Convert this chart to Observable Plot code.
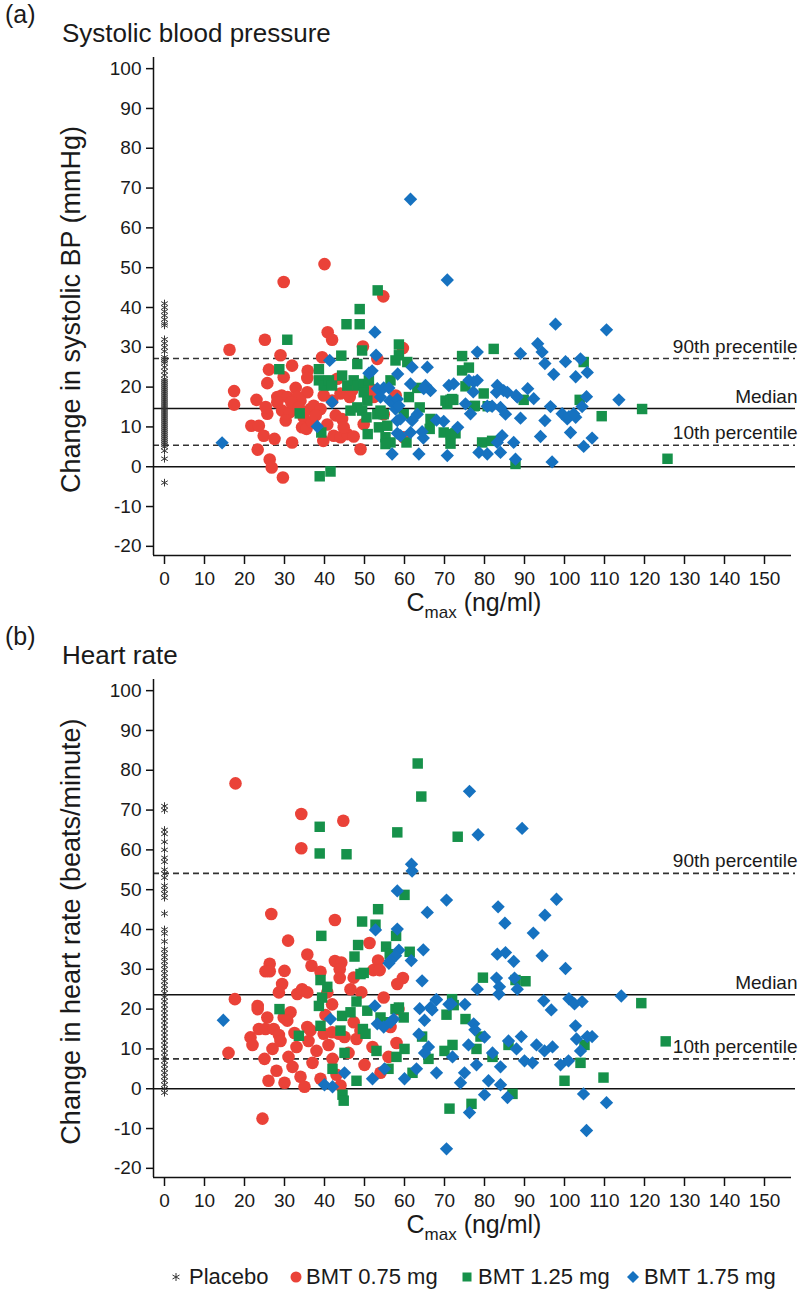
<!DOCTYPE html>
<html><head><meta charset="utf-8">
<script src="https://cdn.jsdelivr.net/npm/d3@7"></script>
<script src="https://cdn.jsdelivr.net/npm/@observablehq/plot@0.6"></script>
<style>
body{margin:0;background:#fff;}
#page{position:relative;width:800px;height:1296px;font-family:"Liberation Sans",Arial,sans-serif;color:#1a1a1a;background:#fff;}
.abs{position:absolute;white-space:nowrap;line-height:1;}
.panel{position:absolute;left:0;}
</style></head>
<body><div id="page"></div>
<script>
// ---------- shared ticks ----------
const xTicks = [0,10,20,30,40,50,60,70,80,90,100,110,120,130,140,150];
const yTicks = [-20,-10,0,10,20,30,40,50,60,70,80,90,100];
const seriesNames = ["Placebo","BMT 0.75 mg","BMT 1.25 mg","BMT 1.75 mg"];
const seriesColors = ["#333333","#EA4238","#16914A","#1672C0"];

// ---------- (a) systolic BP ----------
const sbpPlacebo = [41,40,39,38,37,36,35.5,32,31,30,29,27.5,27,26.5,26,25,24,23,22,21.5,21,20.5,20,19.5,19,18.5,18,17.5,17,16.5,16,15.5,15,14.5,14,13.5,13,12.5,12,11.5,11,10.5,10,9.5,9,8.5,8,7.5,7,6.5,6,5.5,5,4,2,-4];
const sbpLow = [[16.25,29.4],[25.1,31.9],[17.4,19.0],[17.4,15.6],[29.0,28.0],[26.1,24.4],[31.9,25.4],[25.7,21.0],[23.0,16.8],[21.7,10.3],[23.6,10.3],[24.8,7.8],[23.3,4.3],[26.3,1.8],[26.8,-0.2],[29.6,-2.7],[27.5,7.0],[31.9,6.1],[39.7,6.5],[49.0,4.4],[40.8,33.8],[41.9,31.9],[39.4,27.5],[49.6,30.2],[59.6,29.8],[29.8,22.5],[29.3,17.9],[28.2,17.5],[30.8,17.5],[32.8,19.8],[35.8,24.1],[35.7,22.3],[35.7,18.7],[34.0,16.6],[33.2,17.5],[29.4,14.1],[31.3,13.7],[30.3,11.6],[25.7,13.3],[25.3,15.0],[34.8,12.4],[36.5,14.5],[37.3,15.3],[34.4,9.9],[35.5,9.5],[36.9,11.2],[40.7,10.6],[42.8,12.9],[44.4,12.0],[42.3,7.8],[44.0,7.4],[45.7,8.2],[47.3,7.6],[44.8,9.9],[43.2,22.1],[39.8,17.9],[41.9,16.6],[44.0,18.4],[46.3,17.5],[46.9,19.2],[49.8,10.7],[51.5,19.6],[52.3,17.5],[57.8,17.9],[39.0,14.5],[37.8,12.9],[53.2,27.1],[54.8,13.2],[59.8,7.4],[31.7,16.2],[28.2,16.2],[33.6,14.9],[29.8,46.4],[40.0,50.9],[54.7,42.8]];
const sbpMid = [[30.7,31.9],[48.8,39.6],[45.5,35.8],[48.8,35.8],[28.7,24.5],[38.6,24.5],[38.6,21.7],[39.8,20.4],[41.1,21.7],[41.9,20.4],[44.4,22.9],[44.2,27.9],[48.2,25.8],[49.4,29.2],[45.7,20.4],[47.3,21.7],[48.2,20.4],[49.8,20.8],[51.1,21.7],[49.8,18.7],[50.7,16.6],[48.2,14.9],[49.4,14.1],[46.5,14.1],[50.5,12.4],[39.2,8.6],[33.8,13.4],[50.8,8.2],[53.6,9.9],[55.7,10.3],[55.25,7.4],[56.5,6.1],[55.25,5.7],[38.8,-2.4],[41.5,-1.2],[53.2,13.2],[54.8,13.2],[54.0,14.1],[56.5,21.7],[58.6,30.7],[58.6,28.0],[57.75,26.7],[60.7,26.3],[61.1,17.5],[60.5,6.1],[59.8,13.2],[63.8,14.9],[63.2,19.8],[66.5,12.0],[66.3,9.5],[70.25,16.6],[71.9,17.0],[70.7,15.8],[69.8,8.6],[71.5,8.2],[72.75,8.4],[71.5,5.8],[74.4,27.8],[74.4,24.2],[76.1,24.9],[75.25,20.2],[77.3,15.2],[79.8,18.4],[79.4,6.1],[81.9,6.5],[82.3,29.6],[89.8,16.8],[87.75,0.7],[103.8,16.8],[104.8,26.3],[109.3,12.7],[80.8,15.2],[53.3,44.3],[119.4,14.5],[125.75,2.0],[71.5,16.8],[72.2,16.8],[77.6,15.3]];
const sbpHigh = [[14.4,6.0],[41.3,26.7],[41.9,16.2],[38.2,10.1],[52.6,33.8],[52.9,28.0],[51.1,23.5],[51.9,24.1],[53.2,19.6],[54.8,19.8],[56.1,19.8],[54.0,17.5],[56.3,16.6],[57.3,15.8],[58.2,17.0],[57.75,14.5],[58.6,15.3],[58.3,23.3],[61.5,20.8],[61.9,25.0],[65.7,25.0],[65.25,20.4],[66.5,19.1],[64.8,19.6],[63.2,13.2],[61.9,11.6],[61.5,8.6],[58.2,11.6],[59.0,12.0],[58.2,8.4],[59.0,7.8],[56.9,3.2],[63.6,3.2],[64.4,8.8],[64.7,7.2],[68.0,11.7],[69.8,11.4],[70.7,2.8],[73.3,9.9],[71.1,20.4],[72.3,20.8],[75.25,15.8],[76.5,13.3],[76.1,21.7],[77.3,21.3],[78.2,21.7],[77.2,18.8],[78.2,28.8],[78.6,3.6],[80.7,3.2],[80.7,15.2],[81.9,15.2],[83.2,20.4],[84.8,19.1],[85.7,18.7],[84.0,14.9],[85.25,13.2],[84.4,7.8],[83.2,6.1],[84.0,3.6],[87.3,6.1],[87.75,1.9],[88.2,17.5],[89.0,28.4],[89.0,12.2],[90.8,19.6],[92.3,17.1],[93.3,30.9],[94.4,28.8],[95.1,25.9],[97.75,35.8],[97.3,23.2],[100.25,26.4],[96.5,15.1],[95.1,11.6],[94.0,7.6],[96.9,1.2],[99.4,13.3],[100.7,12.0],[101.5,8.6],[102.8,22.6],[102.8,12.4],[104.0,27.1],[105.7,23.7],[105.5,17.6],[104.4,15.1],[104.8,5.1],[106.9,7.2],[110.5,34.4],[113.6,16.8],[61.5,67.2],[70.7,46.9],[83.0,18.7],[101.1,12.6],[102.3,13.3],[87.9,17.9]];
const sbpRefValues = [27.2,14.6,5.4];
const sbpRefLabels = ["90th precentile","Median","10th percentile"];

// ---------- (b) heart rate ----------
const hrPlacebo = [71,70,65,64,62,60,58,57,55,54,53,51,50,49,48,44,40,39,37,35,34,33,32,31,30,29,28,27,26,25,24,23,22,21,20,19,18,17,16,15,14,13,12,11,10,9,8,7,6,5,4,3,2,1,0,-1];
const hrLow = [[17.75,76.7],[34.2,69.0],[44.7,67.3],[34.2,60.4],[26.7,43.9],[42.6,42.4],[30.9,37.2],[35.7,33.7],[51.25,36.6],[26.3,31.4],[25.25,29.5],[26.3,29.5],[30.0,29.6],[36.75,30.9],[39.0,29.4],[42.6,32.1],[44.2,31.7],[43.8,30.0],[43.8,27.8],[47.3,27.9],[53.4,32.2],[52.2,29.8],[53.8,29.8],[59.6,27.8],[58.2,26.3],[29.4,26.3],[28.6,24.2],[33.2,23.8],[34.4,25.0],[35.7,24.2],[40.7,24.2],[46.5,25.0],[49.2,24.2],[41.9,21.2],[54.8,22.9],[17.6,22.5],[23.3,20.8],[23.3,20.0],[25.7,17.9],[29.8,17.9],[31.5,19.2],[30.7,17.1],[21.5,12.9],[23.6,15.0],[25.25,15.0],[27.3,15.0],[28.6,13.5],[35.7,15.5],[36.5,14.7],[40.25,18.5],[39.8,13.8],[41.9,14.2],[43.6,13.8],[47.3,16.7],[16.0,9.0],[22.0,11.0],[24.5,-7.5],[25.0,7.5],[26.0,2.0],[27.0,10.0],[28.0,4.5],[29.0,12.0],[30.0,1.5],[31.0,8.0],[32.0,5.5],[33.0,10.5],[34.0,3.0],[35.0,0.5],[36.0,12.0],[37.0,6.5],[38.0,9.5],[39.0,2.5],[41.0,11.0],[42.0,7.5],[43.0,3.5],[44.0,0.8],[46.0,9.0],[48.0,12.5],[50.0,6.0],[52.0,10.5],[54.0,4.0],[56.0,8.0],[58.0,11.5],[32.5,14.0],[45.0,13.0],[49.0,14.5],[56.5,15.5],[58.5,20.0]];
const hrMid = [[63.3,81.7],[64.2,73.4],[38.8,65.8],[58.2,64.4],[38.8,59.1],[45.5,58.9],[60.0,48.7],[53.4,45.1],[49.4,42.0],[52.75,41.2],[39.2,38.4],[57.9,38.4],[48.4,36.1],[47.5,33.2],[55.4,35.7],[56.3,33.8],[61.3,34.4],[49.8,29.1],[49.0,28.8],[39.0,27.3],[40.7,25.6],[39.4,22.9],[38.6,20.8],[28.75,20.0],[44.4,18.3],[46.5,19.2],[48.0,21.9],[50.7,19.6],[57.75,20.0],[58.6,20.4],[59.8,17.9],[54.0,17.9],[55.7,16.7],[49.6,15.0],[50.25,13.8],[39.0,15.8],[33.6,13.3],[44.0,14.6],[70.5,18.6],[64.4,13.1],[73.3,63.3],[79.6,27.9],[87.75,27.3],[90.25,27.0],[71.9,22.5],[72.3,21.0],[75.25,17.5],[79.0,13.1],[119.2,21.5],[125.3,11.9],[71.25,-5.0],[76.75,-3.8],[87.0,-1.3],[109.75,2.8],[56.0,5.0],[58.0,8.0],[60.0,10.0],[62.0,4.0],[66.0,7.5],[70.0,9.5],[72.0,11.0],[78.0,10.0],[82.0,8.0],[86.0,11.0],[100.0,2.0],[104.0,6.5],[105.0,11.0],[42.0,5.0],[45.0,9.0],[48.0,2.0],[53.0,9.5],[44.5,-1.5],[44.8,-3.0]];
const hrHigh = [[61.75,56.4],[61.9,54.7],[58.2,49.7],[70.5,47.4],[65.7,44.3],[58.2,40.1],[52.75,39.9],[58.6,34.8],[57.75,33.4],[56.5,32.2],[56.1,31.5],[64.7,34.9],[61.7,32.2],[64.4,27.1],[67.9,22.3],[66.9,19.8],[63.8,20.1],[71.1,21.2],[65.0,17.2],[52.6,20.8],[41.5,17.5],[53.2,16.3],[54.8,15.5],[56.5,16.7],[57.3,17.5],[63.6,13.7],[14.7,17.2],[76.25,74.7],[78.4,63.8],[89.4,65.4],[83.4,45.7],[85.1,41.6],[92.2,39.1],[95.1,43.6],[98.0,47.6],[83.2,33.8],[85.25,34.2],[87.3,32.0],[94.4,33.4],[100.25,30.2],[83.0,27.8],[83.75,25.6],[83.6,23.8],[87.5,27.8],[88.2,25.0],[78.2,25.0],[114.2,23.3],[94.8,22.1],[96.7,19.8],[101.1,22.6],[102.5,21.3],[104.4,21.9],[66.5,20.4],[68.0,22.4],[71.7,21.3],[75.1,21.2],[77.3,16.3],[77.6,14.8],[102.75,15.8],[89.2,13.1],[105.7,13.1],[106.9,13.1],[70.5,-15.1],[105.5,-10.5],[110.5,-3.5],[104.75,-1.3],[76.25,-6.0],[85.75,-2.2],[60.0,2.5],[63.0,5.0],[65.0,9.0],[66.0,10.5],[68.0,4.0],[72.0,8.0],[74.0,1.5],[75.0,4.0],[76.0,11.0],[78.0,6.0],[80.0,13.0],[81.0,2.0],[82.0,9.0],[84.0,5.5],[86.0,12.0],[88.0,10.0],[90.0,7.0],[92.0,6.5],[93.0,11.0],[95.0,9.5],[97.0,10.5],[99.0,6.0],[101.0,7.0],[103.0,12.5],[104.0,9.5],[84.0,1.0],[80.0,-1.5],[40.0,1.0],[42.0,0.5],[45.0,4.0],[52.0,2.5],[55.0,5.0]];
const hrRefValues = [54.1,23.6,7.5];
const hrRefLabels = ["90th percentile","Median","10th percentile"];

// ---------- drawing ----------
const tickFont = '"Liberation Sans Narrow","Arial Narrow","Liberation Sans",Arial,sans-serif';
const textFont = '"Liberation Sans",Arial,sans-serif';
const X0 = -2.75, X1 = 157.75, XAX = 156.75, Y0 = -22.3, Y1 = 102.8;

function panel(o) {
  const pts = (data, sym, color, r) => Plot.dot(data, {x: d => d[0], y: d => d[1], symbol: sym, fill: color, stroke: "none", r});
  const refs = o.refValues.map((v, i) => ({y: v, label: o.refLabels[i]}));
  return Plot.plot({
    width: 800, height: 610,
    marginLeft: 153, marginRight: 5, marginTop: 57, marginBottom: 55,
    x: {domain: [X0, X1]},
    y: {domain: [Y0, Y1]},
    style: {fontFamily: tickFont, fontSize: "19px", color: "#1a1a1a", background: "transparent", overflow: "visible"},
    marks: [
      Plot.ruleY([0], {stroke: "#111", strokeWidth: 1.5}),
      Plot.ruleY([refs[1]], {y: "y", stroke: "#111", strokeWidth: 1.5}),
      Plot.ruleY([refs[0], refs[2]], {y: "y", stroke: "#333", strokeWidth: 1.6, strokeDasharray: "6,4"}),
      Plot.text(refs, {y: "y", text: "label", frameAnchor: "right", textAnchor: "end", dx: 2, dy: -12, fontSize: 19, fontFamily: textFont, fill: "#1a1a1a"}),
      Plot.dot(o.placebo.map(v => [0, v]), {x: d => d[0], y: d => d[1], symbol: "asterisk", stroke: seriesColors[0], strokeWidth: 1, r: 3.6}),
      pts(o.low, "circle", seriesColors[1], 6.3),
      pts(o.mid, "square", seriesColors[2], 5.9),
      pts(o.high, "diamond2", seriesColors[3], 6.0),
      Plot.ruleX([X0], {stroke: "#111", strokeWidth: 1.5}),
      Plot.ruleY([Y0], {x1: X0, x2: XAX, stroke: "#111", strokeWidth: 1.5}),
      Plot.axisY({ticks: yTicks, tickSize: 7, tickPadding: 5, tickFormat: d => String(d), label: null, strokeWidth: 1.5, stroke: "#111"}),
      Plot.axisX({ticks: xTicks, tickSize: 9, tickPadding: 7, tickFormat: d => String(d), label: null, strokeWidth: 1.5, stroke: "#111"}),
      Plot.text([o.yLabel], {frameAnchor: "left", textAnchor: "middle", rotate: -90, dx: -82, dy: 3, fontSize: 27, fontFamily: textFont, fill: "#1a1a1a"})
    ]
  });
}

const page = document.getElementById("page");
function addText(html, left, top, size) {
  const d = document.createElement("div");
  d.className = "abs";
  d.style.left = left + "px"; d.style.top = top + "px"; d.style.fontSize = size + "px";
  d.innerHTML = html;
  page.appendChild(d);
  return d;
}

const panels = [
  {offset: 0, tag: "(a)", title: "Systolic blood pressure", yLabel: "Change in systolic BP (mmHg)", placebo: sbpPlacebo, low: sbpLow, mid: sbpMid, high: sbpHigh, refValues: sbpRefValues, refLabels: sbpRefLabels},
  {offset: 622, tag: "(b)", title: "Heart rate", yLabel: "Change in heart rate (beats/minute)", placebo: hrPlacebo, low: hrLow, mid: hrMid, high: hrHigh, refValues: hrRefValues, refLabels: hrRefLabels}
];

for (const p of panels) {
  const svg = panel(p);
  svg.classList.add("panel");
  svg.style.top = p.offset + "px";
  page.appendChild(svg);
  addText(p.tag, 5, p.offset + 2, 25);
  addText(p.title, 62, p.offset + 20, 26);
  const t = addText('C<span style="font-size:17px;position:relative;top:7px">max</span> (ng/ml)', 0, p.offset + 590, 25);
  t.style.left = (474 - t.offsetWidth / 2) + "px";
}

// legend (symbols + labels placed as in the reference)
const legendSymbols = [
  '<svg width="12" height="14" viewBox="-6 -7 12 14"><g stroke="#333" stroke-width="1"><line x1="0" y1="-4" x2="0" y2="4"/><line x1="-3.5" y1="-2" x2="3.5" y2="2"/><line x1="-3.5" y1="2" x2="3.5" y2="-2"/></g></svg>',
  '<svg width="14" height="14" viewBox="-7 -7 14 14"><circle r="5.5" fill="' + seriesColors[1] + '"/></svg>',
  '<svg width="12" height="12" viewBox="-6 -6 12 12"><rect x="-4.5" y="-4.5" width="9" height="9" fill="' + seriesColors[2] + '"/></svg>',
  '<svg width="14" height="14" viewBox="-7 -7 14 14"><path d="M0,-6L6,0L0,6L-6,0Z" fill="' + seriesColors[3] + '"/></svg>'
];
const legendSymX = [177, 296, 468, 633];
const legendTextX = [189, 306, 478, 644];
seriesNames.forEach((n, i) => {
  const s = document.createElement("div");
  s.className = "abs";
  s.style.left = (legendSymX[i] - 7) + "px"; s.style.top = "1270px";
  s.innerHTML = legendSymbols[i];
  page.appendChild(s);
  addText(n, legendTextX[i], 1266, 22);
});
</script>
</body></html>
